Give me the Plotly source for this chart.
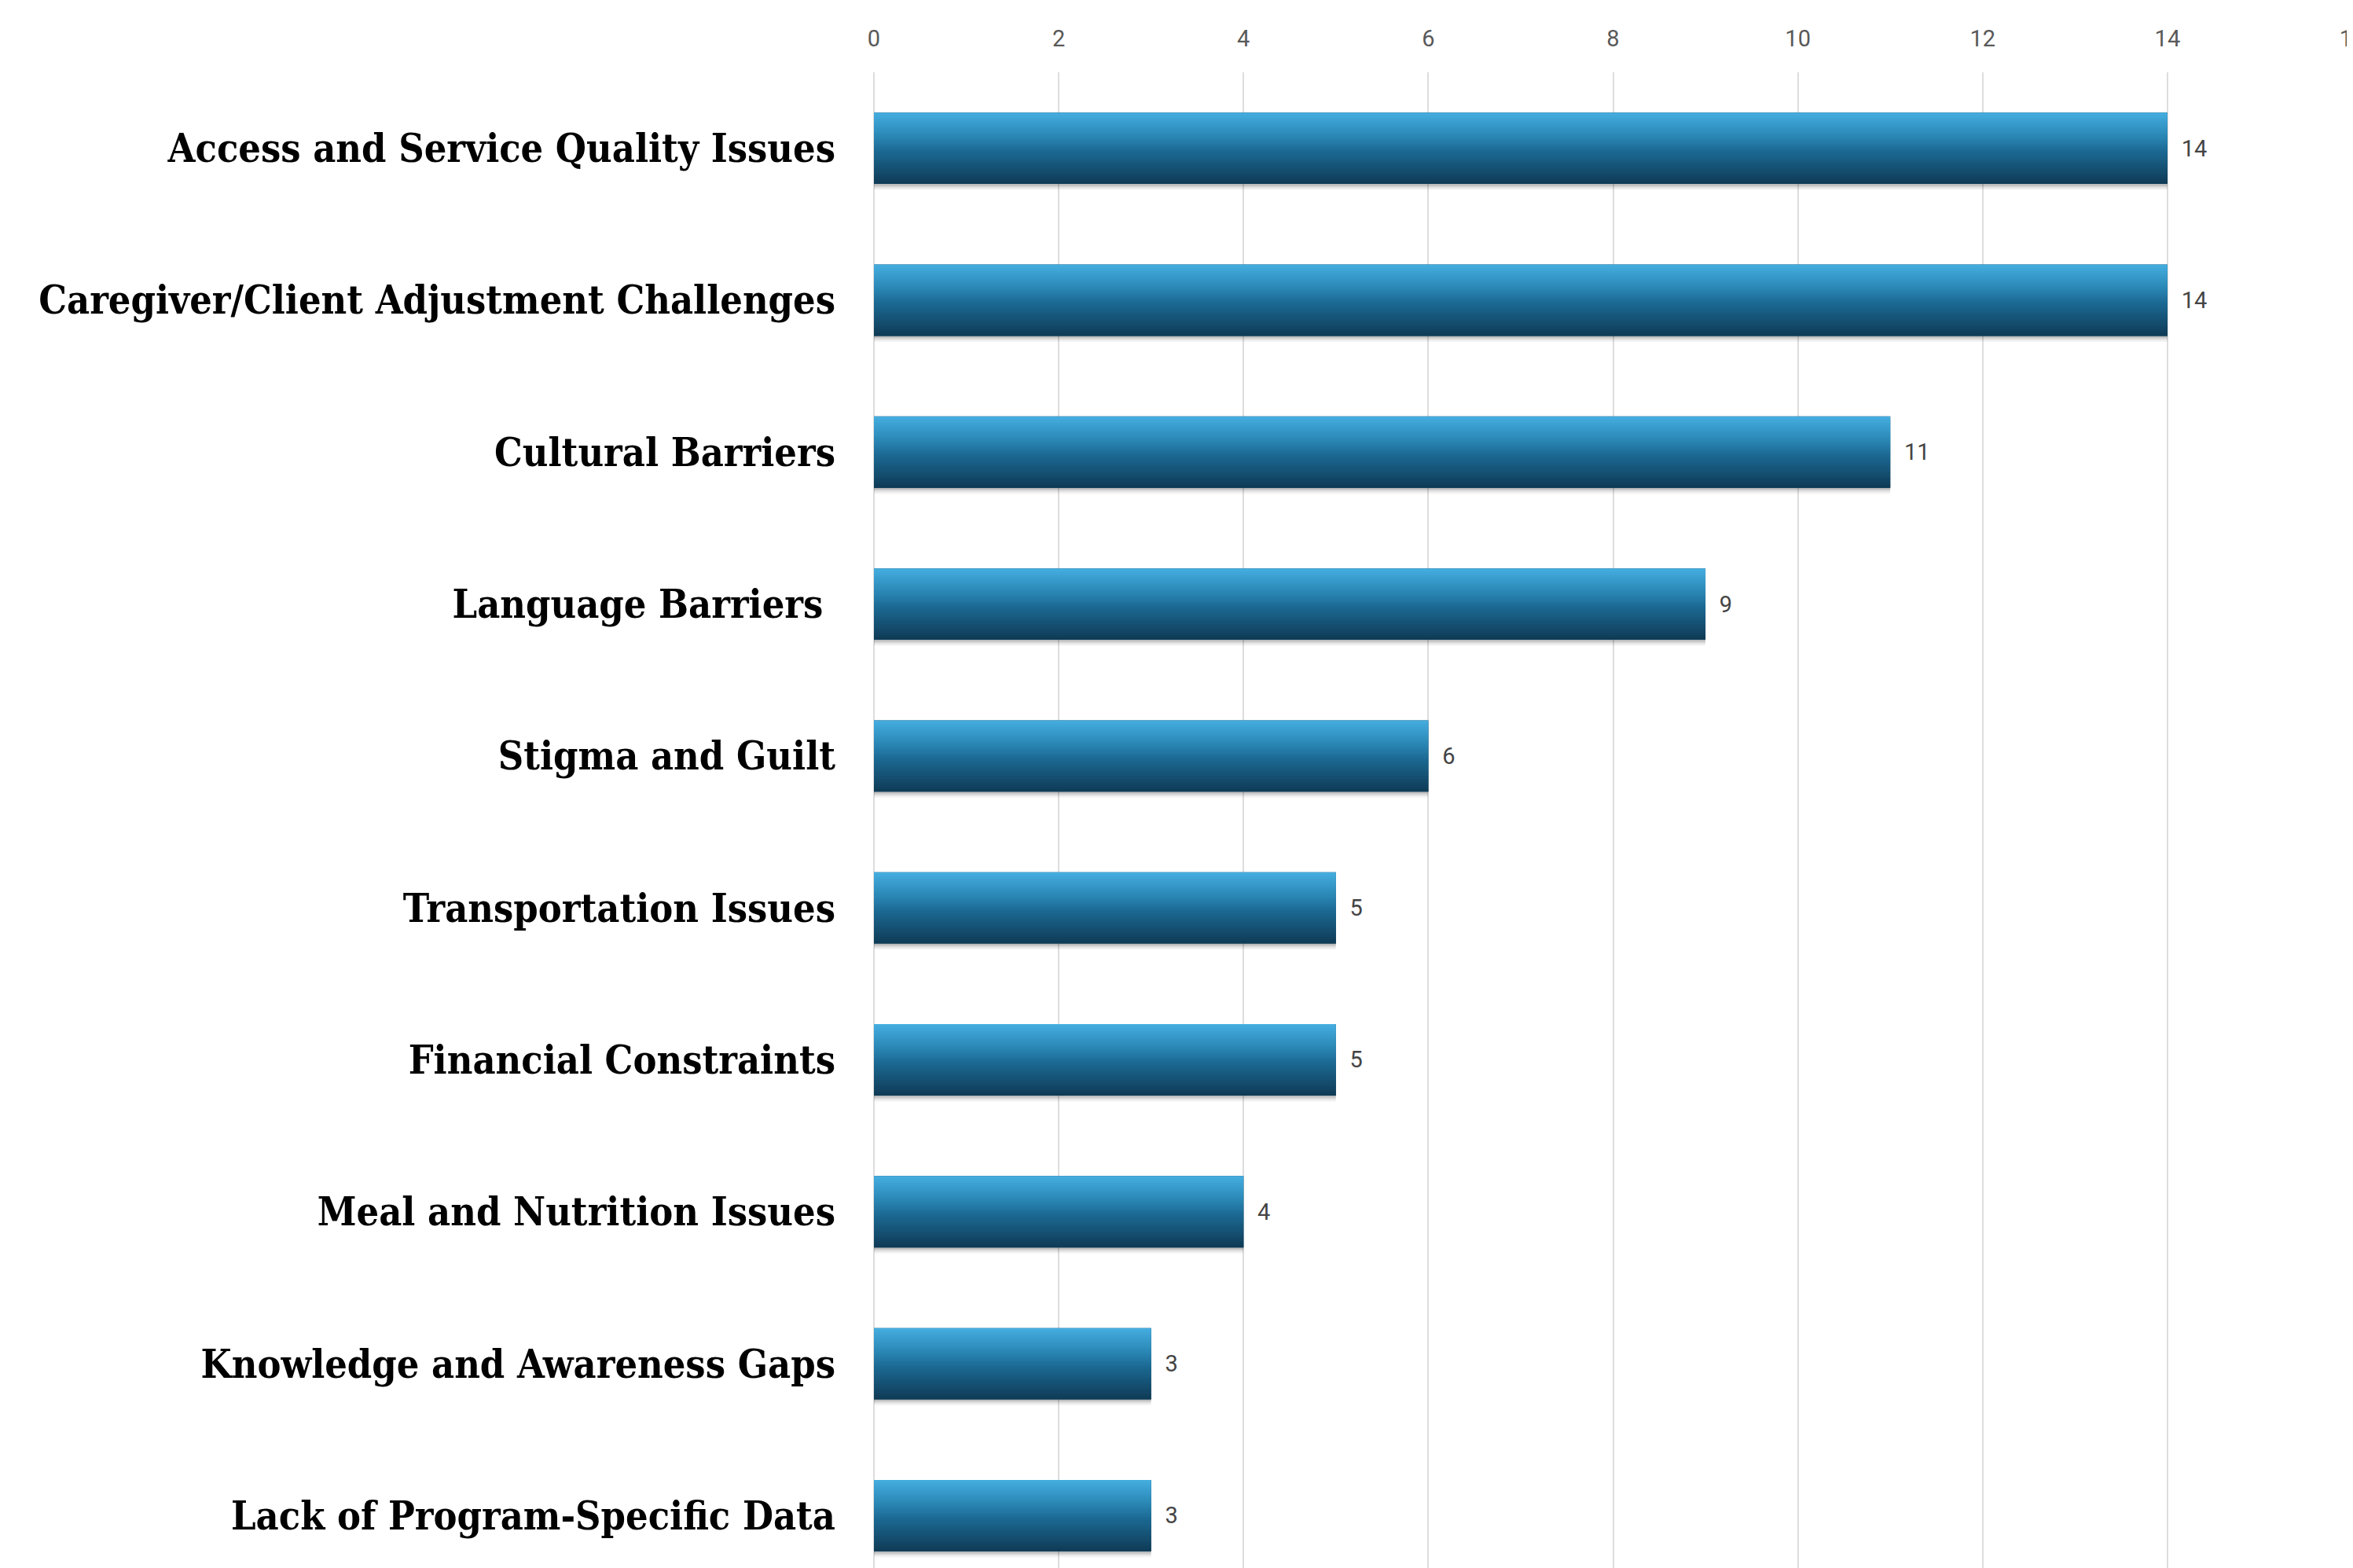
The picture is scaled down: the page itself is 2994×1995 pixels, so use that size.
import plotly.graph_objects as go

categories = [
    "Access and Service Quality Issues",
    "Caregiver/Client Adjustment Challenges",
    "Cultural Barriers",
    "Language Barriers\u00a0",
    "Stigma and Guilt",
    "Transportation Issues",
    "Financial Constraints",
    "Meal and Nutrition Issues",
    "Knowledge and Awareness Gaps",
    "Lack of Program-Specific Data",
]
values = [14, 14, 11, 9, 6, 5, 5, 4, 3, 3]
x_ticks = [0, 2, 4, 6, 8, 10, 12, 14, 16]

BAR_W = 0.47
HW = BAR_W / 2
N_SLICES = 32
stops = [(0.0, (69, 174, 224)), (0.33, (42, 135, 181)), (0.55, (27, 104, 146)), (1.0, (15, 58, 85))]


def interp(t):
    for (t0, c0), (t1, c1) in zip(stops[:-1], stops[1:]):
        if t0 <= t <= t1:
            f = (t - t0) / (t1 - t0)
            return "rgb(%d,%d,%d)" % tuple(round(a + (b - a) * f) for a, b in zip(c0, c1))
    return "rgb(%d,%d,%d)" % stops[-1][1]


fig = go.Figure()

# soft drop shadow (layered, fading)
for extra, alpha in [(0.036, 0.04), (0.026, 0.06), (0.016, 0.08), (0.008, 0.10)]:
    fig.add_trace(go.Bar(
        x=values, y=categories, orientation="h",
        offset=-HW + 0.004, width=BAR_W + extra,
        marker=dict(color="rgba(0,0,0,%.2f)" % alpha, line=dict(width=0)),
        hoverinfo="skip", showlegend=False,
    ))

# base bar carrying the value labels
fig.add_trace(go.Bar(
    x=values, y=categories, orientation="h",
    offset=-HW, width=BAR_W,
    marker=dict(color=interp(1.0), line=dict(width=0)),
    text=values, texttemplate="\u2002%{x}", textposition="outside",
    textfont=dict(family="Roboto, Liberation Sans, sans-serif", size=29, color="#444444"),
    cliponaxis=False, showlegend=False,
))

# vertical gradient slices
h = BAR_W / N_SLICES
for k in range(N_SLICES):
    t = (k + 0.5) / N_SLICES
    fig.add_trace(go.Bar(
        x=values, y=categories, orientation="h",
        offset=-HW + k * h, width=min(h * 1.6, BAR_W - k * h),
        marker=dict(color=interp(t), line=dict(width=0)),
        hoverinfo="skip", showlegend=False,
    ))

fig.update_layout(
    width=2994, height=1995,
    barmode="overlay",
    plot_bgcolor="white", paper_bgcolor="white",
    margin=dict(l=1104, r=7, t=84, b=0, pad=0, autoexpand=False),
    xaxis=dict(
        side="top", range=[0, 16.017], tickvals=x_ticks,
        automargin=False,
        showgrid=True, gridcolor="#dddddd", gridwidth=2,
        zeroline=True, zerolinecolor="#dddddd", zerolinewidth=2,
        showline=False, ticks="",
        ticklabelstandoff=26, ticklabeloverflow="allow",
        tickfont=dict(family="Roboto, Liberation Sans, sans-serif", size=29, color="#595959"),
    ),
    yaxis=dict(
        type="category", categoryorder="array", categoryarray=categories,
        range=[9.386, -0.5], automargin=False,
        showgrid=False, zeroline=False, showline=False, ticks="",
        ticklabelstandoff=48,
        tickfont=dict(family="DejaVu Serif Condensed, DejaVu Serif, serif", size=50,
                      color="#000000", weight="bold"),
    ),
)

fig.write_html("out.html")
